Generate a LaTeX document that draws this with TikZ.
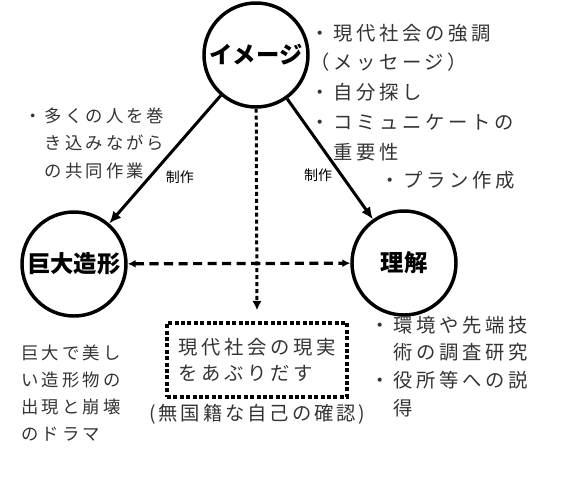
\documentclass[tikz,border=0pt]{standalone}
\usepackage{fontspec}
\usepackage{tikz}
\usetikzlibrary{arrows.meta,calc,positioning}
\newfontfamily\jp{Noto Sans CJK JP}
\newfontfamily\jpwide[LetterSpace=19]{Noto Sans CJK JP}
\newfontfamily\jpsmall[LetterSpace=18]{Noto Sans CJK JP}
\newfontfamily\jpparen[LetterSpace=15]{Noto Sans CJK JP}
\tikzset{
  idea/.style={circle, draw, line width=2.6pt, minimum size=78pt, inner sep=0pt,
    font=\jp\fontsize{17.5}{20}\selectfont\bfseries},
  dotbox/.style={draw, line width=2.6pt, dash pattern=on 3pt off 1.8pt,
    minimum width=135pt, minimum height=55.5pt, inner sep=0pt, align=left,
    text=black!80, font=\jpwide\fontsize{14.5}{19.5}\selectfont},
  % base of a note = baseline of its last line
  note/.style={anchor=base west, align=left, inner sep=0pt, text=black!80,
    font=\jpwide\fontsize{14.5}{#1}\selectfont},
  smallnote/.style={anchor=base west, align=left, inner sep=0pt, text=black!80,
    font=\jpsmall\fontsize{13}{#1}\selectfont},
  paren/.style={anchor=base west, inner sep=0pt, text=black!80,
    font=\jpparen\fontsize{14.5}{17}\selectfont},
  lbl/.style={inner sep=0pt, font=\jp\fontsize{10.5}{12}\selectfont},
  solidarrow/.style={line width=2.25pt, -{Latex[length=9pt,width=8pt]}},
  dasharrow/.style={line width=2.4pt, dash pattern=on 6.8pt off 4.1pt,
    {Latex[length=6pt,width=6pt]}-{Latex[length=6pt,width=6pt]}},
  dotarrow/.style={line width=2.25pt, dash pattern=on 3pt off 2.2pt,
    -{Latex[length=7pt,width=7pt]}}
}
\begin{document}
\begin{tikzpicture}[x=0.75pt,y=-0.75pt]
\useasboundingbox (0,0) rectangle (562,480);
% Circles
\node[idea] (image) at (256,55) {イメージ};
\node[idea] (zoukei) at (74,264) {巨大造形};
\node[idea] (rikai) at (404,263) {理解};
% Dotted box
\node[dotbox] (genjitsu) at (257,360) {現代社会の現実\\をあぶりだす};
% Arrows
\draw[solidarrow] (image) -- (zoukei);
\draw[solidarrow] (image) -- (rikai);
\draw[dasharrow] (zoukei) -- (rikai);
\coordinate (tip) at ($(genjitsu.north)+(0,-11)$);
\draw[dotarrow] (image) -- (tip);
% Labels on the arrows
\node[lbl] (seisakuL) at (180,177) {制作};
\node[lbl] (seisakuR) at (318,175) {制作};
% Notes
\node[note=22.3] (msg) at (310,159) {・現代社会の強調\\（メッセージ）\\・自分探し\\・コミュニケートの\\　重要性};
\node[note=22.3] (plan) at (380,187) {・プラン作成};
\node[smallnote=20.6] (kyodo) at (24,177) {・多くの人を巻\\　き込みながら\\　の共同作業};
\node[smallnote=20.25] (drama) at (21,440) {巨大で美し\\い造形物の\\出現と崩壊\\のドラマ};
\node[note=20.75] (chosa) at (370,415) {・環境や先端技\\　術の調査研究\\・役所等への説\\　得};
\node[paren] (kakunin) at (149,420) {(無国籍な自己の確認)};
\end{tikzpicture}
\end{document}
